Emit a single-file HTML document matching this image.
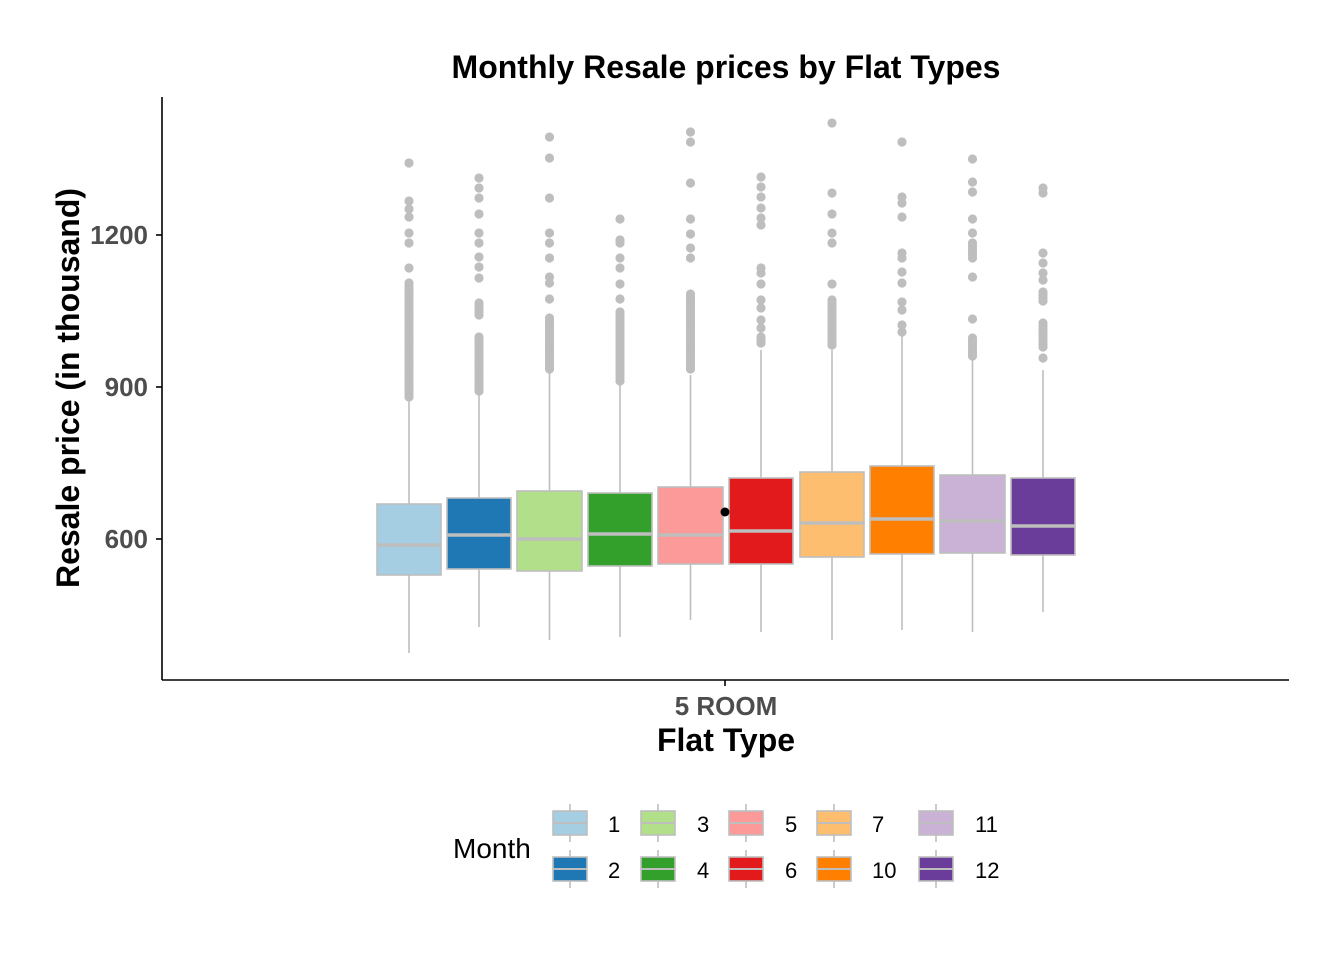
<!DOCTYPE html>
<html><head><meta charset="utf-8"><style>
body{margin:0;background:#fff}
svg{display:block;font-family:"Liberation Sans",Arial,sans-serif}
</style></head><body>
<svg id="s" width="1344" height="960" xmlns="http://www.w3.org/2000/svg">
<rect width="1344" height="960" fill="#fff"/>
<g id="plot"></g>
<line x1="162" y1="97" x2="162" y2="680" stroke="#000" stroke-width="1.6"/>
<line x1="162" y1="680" x2="1289" y2="680" stroke="#000" stroke-width="1.6"/>
<line x1="725" y1="680" x2="725" y2="686" stroke="#000" stroke-width="1.6"/>
<line x1="156" y1="235" x2="162" y2="235" stroke="#000" stroke-width="1.6"/>
<line x1="156" y1="387" x2="162" y2="387" stroke="#000" stroke-width="1.6"/>
<line x1="156" y1="539" x2="162" y2="539" stroke="#000" stroke-width="1.6"/>
<g font-size="26" font-weight="bold" fill="#4d4d4d" text-anchor="end">
<text x="148" y="244">1200</text><text x="148" y="396">900</text><text x="148" y="548">600</text>
</g>
<text x="726" y="715" font-size="26" font-weight="bold" fill="#4d4d4d" text-anchor="middle">5 ROOM</text>
<text x="726" y="751" font-size="32" font-weight="bold" text-anchor="middle">Flat Type</text>
<text x="726" y="78" font-size="32" font-weight="bold" text-anchor="middle">Monthly Resale prices by Flat Types</text>
<text transform="translate(79,388) rotate(-90)" font-size="32" font-weight="bold" text-anchor="middle">Resale price (in thousand)</text>
<circle cx="725" cy="512" r="4.5" fill="#000"/>
<text x="453" y="858" font-size="28">Month</text>
<g id="leg"></g>
</svg>
<script>
var cols=["#a6cee3","#1f78b4","#b2df8a","#33a02c","#fb9a99","#e31a1c","#fdbf6f","#ff7f00","#cab2d6","#6a3d9a"];
var xs=[[377,441],[447,511],[517,582],[588,652],[658,723],[729,793],[800,864],[870,934],[940,1005],[1011,1075]];
var bx=[[504,575,545,400,653],[498,569,535,390,627],[491,571,539,373,640],[493,566,534,385,637],[487,564,535,375,620],[478,564,531,350,632],[472,557,523,350,640],[466,554,519,335,630],[475,553,521,360,632],[478,555,526,370,612]];
var outs=[
[163,201,209,217,233,243,268,[283,397]],
[178,188,198,214,233,243,257,267,278,[303,315],[337,392]],
[137,158,198,233,243,258,277,283,299,[318,370]],
[219,240,243,258,268,284,299,[312,383]],
[132,142,183,219,234,248,258,[294,370]],
[177,187,197,208,218,225,268,273,284,300,308,320,328,[337,345]],
[123,193,214,233,243,284,[300,347]],
[142,197,203,217,253,258,272,283,302,310,325,332],
[159,182,192,219,233,[243,260],277,319,[338,357]],
[188,193,253,263,273,280,[292,303],[323,347],358]];
var h="";
for(var i=0;i<10;i++){
 var x0=xs[i][0],x1=xs[i][1],cx=(x0+x1)/2,b=bx[i];
 h+='<line x1="'+cx+'" y1="'+b[3]+'" x2="'+cx+'" y2="'+b[0]+'" stroke="#bebebe" stroke-width="1.6"/>';
 h+='<line x1="'+cx+'" y1="'+b[1]+'" x2="'+cx+'" y2="'+b[4]+'" stroke="#bebebe" stroke-width="1.6"/>';
 outs[i].forEach(function(o){
  if(typeof o==="number"){h+='<circle cx="'+cx+'" cy="'+o+'" r="4.6" fill="#bebebe"/>';}
  else{for(var y=o[0];y<=o[1];y+=3)h+='<circle cx="'+cx+'" cy="'+y+'" r="4.6" fill="#bebebe"/>';}
 });
 h+='<rect x="'+x0+'" y="'+b[0]+'" width="'+(x1-x0)+'" height="'+(b[1]-b[0])+'" fill="'+cols[i]+'" stroke="#bebebe" stroke-width="1.6"/>';
 h+='<line x1="'+x0+'" y1="'+b[2]+'" x2="'+x1+'" y2="'+b[2]+'" stroke="#bebebe" stroke-width="3.5"/>';
}
document.getElementById("plot").innerHTML=h;
var lx=[553,641,729,817,919],tx=[608,697,785,872,975];
var labs=[["1","2"],["3","4"],["5","6"],["7","10"],["11","12"]];
var g="";
for(var c=0;c<5;c++)for(var r=0;r<2;r++){
 var y=r?857:811,x=lx[c],k=c*2+r,cx=x+17;
 g+='<line x1="'+cx+'" y1="'+(y-7)+'" x2="'+cx+'" y2="'+(y+31)+'" stroke="#bebebe" stroke-width="1.6"/>';
 g+='<rect x="'+x+'" y="'+y+'" width="34" height="24" fill="'+cols[k]+'" stroke="#bebebe" stroke-width="1.6"/>';
 g+='<line x1="'+x+'" y1="'+(y+12)+'" x2="'+(x+34)+'" y2="'+(y+12)+'" stroke="#bebebe" stroke-width="2"/>';
 g+='<text x="'+tx[c]+'" y="'+(y+21)+'" font-size="22">'+labs[c][r]+'</text>';
}
document.getElementById("leg").innerHTML=g;
</script>
</body></html>
